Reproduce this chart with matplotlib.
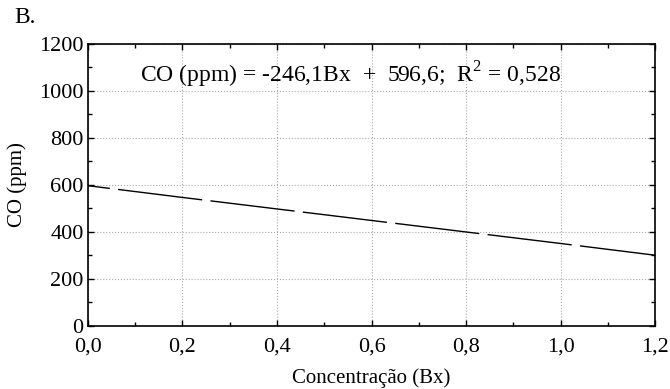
import matplotlib
matplotlib.use('Agg')
import matplotlib.pyplot as plt
from matplotlib.ticker import MultipleLocator, FuncFormatter

# values (fitted line)
conc_bx = [0.0, 0.2, 0.4, 0.6, 0.8, 1.0, 1.2]
co_ppm = [597, 547, 498, 449, 400, 351, 301]
equation = 'CO (ppm) = -246,1Bx  +  596,6;  R$^2$ = 0,528'

plt.rcParams['font.family'] = ['Liberation Serif', 'DejaVu Serif']
plt.rcParams['mathtext.fontset'] = 'custom'
plt.rcParams['mathtext.rm'] = 'Liberation Serif'

fig = plt.figure(figsize=(6.7, 3.89), dpi=100)
ax = fig.add_axes([0.131, 0.162, 0.847, 0.725])

ax.plot(conc_bx, co_ppm, color='black', linewidth=1.0,
        linestyle=(45, (61, 6)))

ax.set_xlim(0, 1.2)
ax.set_ylim(0, 1200)
ax.xaxis.set_major_locator(MultipleLocator(0.2))
ax.xaxis.set_minor_locator(MultipleLocator(0.1))
ax.yaxis.set_major_locator(MultipleLocator(200))
ax.yaxis.set_minor_locator(MultipleLocator(100))
ax.xaxis.set_major_formatter(FuncFormatter(lambda v, p: f'{v:.1f}'.replace('.', ',')))
ax.tick_params(which='both', direction='in', top=True, right=True, labelsize=16)
ax.tick_params(which='major', length=4, width=1)
ax.tick_params(axis='x', which='major', pad=8)
ax.tick_params(axis='y', which='major', pad=3)
ax.tick_params(which='minor', length=3, width=1)
ax.grid(True, which='major', linestyle=':', color='#aaaaaa', linewidth=0.8)
for s in ax.spines.values():
    s.set_linewidth(1.2)

ax.text(0.555, 1068, equation, ha='center', va='center', fontsize=17)
ax.set_xlabel('Concentração (Bx)', fontsize=15, labelpad=9)
ax.set_ylabel('CO (ppm)', fontsize=15, labelpad=9)
fig.text(0.022, 0.955, 'B.', fontsize=17, va='center')

fig.savefig('out.png', dpi=100)
